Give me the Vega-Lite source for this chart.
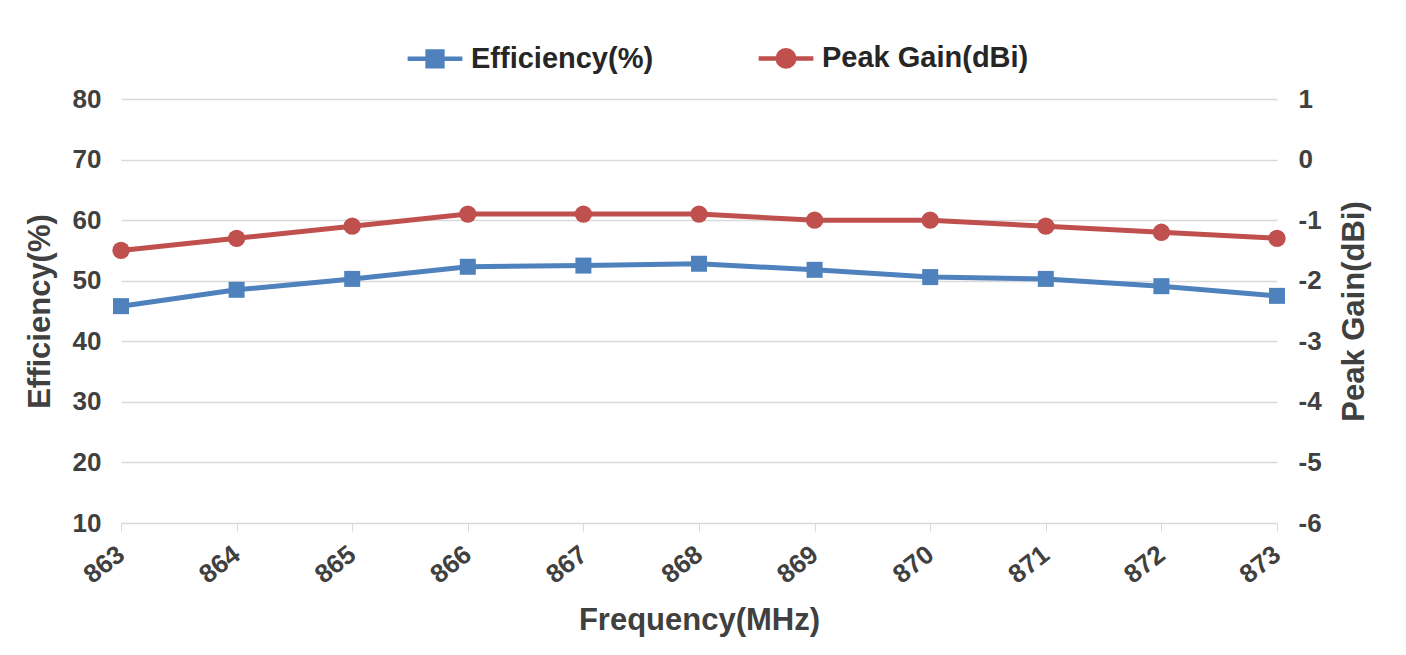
{
  "$schema": "https://vega.github.io/schema/vega-lite/v6.json",
  "width": 1156,
  "height": 424,
  "autosize": {"type": "none"},
  "padding": {"left": 121, "top": 99, "right": 129, "bottom": 132},
  "background": "white",
  "config": {
    "font": "Liberation Sans",
    "view": {"stroke": null},
    "axis": {
      "labelFont": "Liberation Sans",
      "labelFontWeight": "bold",
      "labelFontSize": 26,
      "labelColor": "#404040",
      "titleFont": "Liberation Sans",
      "titleFontWeight": "bold",
      "titleFontSize": 31,
      "titleColor": "#404040",
      "gridColor": "#D9D9D9",
      "gridWidth": 1.3,
      "domainColor": "#D9D9D9",
      "tickColor": "#D9D9D9"
    },
    "legend": {
      "labelFont": "Liberation Sans",
      "labelFontWeight": "bold",
      "labelFontSize": 29,
      "labelColor": "#262626",
      "labelLimit": 0
    }
  },
  "data": {
    "values": [
      {"freq": 863, "eff": 45.8, "gain": -1.5},
      {"freq": 864, "eff": 48.5, "gain": -1.3},
      {"freq": 865, "eff": 50.3, "gain": -1.1},
      {"freq": 866, "eff": 52.3, "gain": -0.9},
      {"freq": 867, "eff": 52.5, "gain": -0.9},
      {"freq": 868, "eff": 52.8, "gain": -0.9},
      {"freq": 869, "eff": 51.8, "gain": -1.0},
      {"freq": 870, "eff": 50.6, "gain": -1.0},
      {"freq": 871, "eff": 50.3, "gain": -1.1},
      {"freq": 872, "eff": 49.1, "gain": -1.2},
      {"freq": 873, "eff": 47.5, "gain": -1.3}
    ]
  },
  "encoding": {
    "x": {
      "field": "freq",
      "type": "quantitative",
      "scale": {"domain": [863, 873], "nice": false, "zero": false},
      "axis": {
        "values": [863, 864, 865, 866, 867, 868, 869, 870, 871, 872, 873],
        "grid": false,
        "domain": true,
        "ticks": true,
        "tickSize": 8,
        "labelAngle": -38,
        "labelAlign": "right",
        "labelBaseline": "middle",
        "labelPadding": 20,
        "labelFlush": false,
        "labelOverlap": false,
        "title": "Frequency(MHz)",
        "titlePadding": 18
      }
    }
  },
  "layer": [
    {
      "mark": {
        "type": "line",
        "strokeWidth": 5,
        "point": {"filled": true, "shape": "square", "size": 256, "opacity": 1}
      },
      "encoding": {
        "y": {
          "field": "eff",
          "type": "quantitative",
          "scale": {"domain": [10, 80], "nice": false, "zero": false},
          "axis": {
            "orient": "left",
            "values": [10, 20, 30, 40, 50, 60, 70, 80],
            "domain": false,
            "ticks": false,
            "grid": true,
            "labelPadding": 20,
            "title": "Efficiency(%)",
            "titlePadding": 16
          }
        },
        "color": {
          "datum": "Efficiency(%)",
          "type": "nominal",
          "scale": {"domain": ["Efficiency(%)", "Peak Gain(dBi)"], "range": ["#4F81BD", "#C0504D"]},
          "legend": {
            "orient": "none",
            "legendX": 284,
            "legendY": -71,
            "direction": "horizontal",
            "title": null,
            "symbolType": "M-1,0H1M-0.27,-0.27H0.27V0.27H-0.27Z",
            "symbolSize": 3000,
            "symbolStrokeWidth": 4.5,
            "columnPadding": 95,
            "labelOffset": 6,
            "encode": {
              "symbols": {
                "update": {
                  "shape": {"signal": "datum.value === 'Peak Gain(dBi)' ? 'M-1,0H1M0.3,0A0.3,0.3 0 1,1 -0.3,0A0.3,0.3 0 1,1 0.3,0Z' : 'M-1,0H1M-0.27,-0.27H0.27V0.27H-0.27Z'"},
                  "fill": {"signal": "datum.value === 'Peak Gain(dBi)' ? '#C0504D' : '#4F81BD'"},
                  "stroke": {"signal": "datum.value === 'Peak Gain(dBi)' ? '#C0504D' : '#4F81BD'"},
                  "opacity": {"value": 1}
                }
              }
            }
          }
        }
      }
    },
    {
      "mark": {
        "type": "line",
        "strokeWidth": 5,
        "point": {"filled": true, "shape": "circle", "size": 300, "opacity": 1}
      },
      "encoding": {
        "y": {
          "field": "gain",
          "type": "quantitative",
          "scale": {"domain": [-6, 1], "nice": false, "zero": false},
          "axis": {
            "orient": "right",
            "values": [-6, -5, -4, -3, -2, -1, 0, 1],
            "labelExpr": "toString(datum.value)",
            "domain": false,
            "ticks": false,
            "grid": false,
            "labelPadding": 21,
            "title": "Peak Gain(dBi)",
            "titleAngle": 270,
            "titleBaseline": "top",
            "titlePadding": 18
          }
        },
        "color": {"datum": "Peak Gain(dBi)", "type": "nominal"}
      }
    }
  ],
  "resolve": {"scale": {"y": "independent"}}
}
